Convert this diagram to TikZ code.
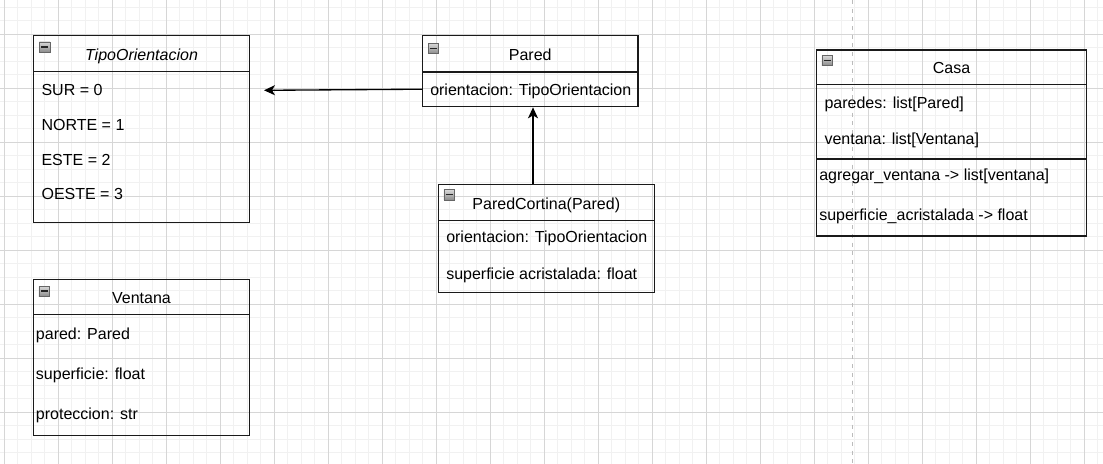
\documentclass[tikz,border=0pt]{standalone}
\usepackage{fontspec}
\setmainfont{Liberation Sans}
\usetikzlibrary{arrows.meta,fit,calc}
\definecolor{minorgrid}{HTML}{F1F1F1}
\definecolor{majorgrid}{HTML}{D6D6D6}
\definecolor{dashgray}{HTML}{BBBBBB}
\definecolor{boxline}{HTML}{1A1A1A}
\begin{document}
\begin{tikzpicture}[x=0.75pt,y=-0.75pt,
  font=\fontsize{12}{14}\selectfont,
  umlbox/.style={draw=boxline, line width=1pt, inner sep=0pt, rectangle},
  region/.style={inner sep=0pt, rectangle},
  sepline/.style={draw=boxline, line width=1pt},
  txt/.style={anchor=base west, inner sep=0pt, text=black},
  ttl/.style={anchor=base, inner sep=0pt, text=black},
  iconbox/.style={draw=black!60, top color=black!15, bottom color=black!45,
    minimum width=7.9pt, minimum height=7.6pt, inner sep=0pt, anchor=north west,
    path picture={\draw[black!85, line width=1.1pt]
      ([xshift=1.3pt]path picture bounding box.west) -- ([xshift=-1.3pt]path picture bounding box.east);}},
  arr/.style={draw=black, line width=1pt, -{Stealth[length=8.2pt,width=7.5pt,inset=2.2pt]}},
  minorln/.style={draw=minorgrid, line width=0.75pt},
  majorln/.style={draw=majorgrid, line width=0.75pt},
  guide/.style={draw=dashgray, line width=0.8pt, dash pattern=on 3pt off 3.5pt}
]
\useasboundingbox (0,0) rectangle (1103,464);
\fill[white] (0,0) rectangle (1103,464);
% grid
\foreach \i in {0,...,81} {\draw[minorln] ({4.3+13.5*\i},0) -- ({4.3+13.5*\i},464);}
\foreach \j in {0,...,33} {\draw[minorln] (0,{7.3+13.5*\j}) -- (1103,{7.3+13.5*\j});}
\foreach \i in {0,...,20} {\draw[majorln] ({4.3+54*\i},0) -- ({4.3+54*\i},464);}
\foreach \j in {0,...,7} {\draw[majorln] (0,{34.3+54*\j}) -- (1103,{34.3+54*\j});}
% dashed guide
\draw[guide] (852.7,0) -- (852.7,464);

% ---------- TipoOrientacion ----------
\node[umlbox, fit={(33.3,35.7) (249.7,222.3)}] (tipo) {};
\node[region, fit={(33.3,35.7) (249.7,71.3)}] (tipohead) {};
\draw[sepline] (tipohead.south west) -- (tipohead.south east);
\node[iconbox] (tipoicon) at ([xshift=4.9pt,yshift=-4.9pt]tipo.north west) {};
\node[ttl] (tipott) at (141.5,60) {\itshape TipoOrientacion};
\node[txt] (tipo1) at (41.3,95.7) {SUR = 0};
\node[txt] (tipo2) at (41.3,130.7) {NORTE = 1};
\node[txt] (tipo3) at (41.3,165) {ESTE = 2};
\node[txt] (tipo4) at (41.3,199.7) {OESTE = 3};

% ---------- Pared ----------
\node[umlbox, fit={(422.3,35.7) (638,106.7)}] (pared) {};
\node[region, fit={(422.3,35.7) (638,71.7)}] (paredhead) {};
\node[region, fit={(422.3,71.7) (638,106.7)}] (paredrow) {};
\draw[sepline] (paredhead.south west) -- (paredhead.south east);
\node[iconbox] (paredicon) at ([xshift=4.6pt,yshift=-6pt]pared.north west) {};
\node[ttl] (paredtt) at (530.2,60) {Pared};
\node[txt] (pared1) at (430,95) {orientacion: TipoOrientacion};

% ---------- ParedCortina ----------
\node[umlbox, fit={(438.3,184.3) (654.3,292.3)}] (cortina) {};
\node[region, fit={(438.3,184.3) (654.3,220)}] (cortinahead) {};
\draw[sepline] (cortinahead.south west) -- (cortinahead.south east);
\node[iconbox] (cortinaicon) at ([xshift=4.5pt,yshift=-4.3pt]cortina.north west) {};
\node[ttl] (cortinatt) at (546.3,209) {ParedCortina(Pared)};
\node[txt] (cortina1) at (446,242.7) {orientacion: TipoOrientacion};
\node[txt] (cortina2) at (446,279.3) {superficie acristalada: float};

% ---------- Casa ----------
\node[umlbox, fit={(816.3,50) (1086.7,236)}] (casa) {};
\node[region, fit={(816.3,50) (1086.7,84.3)}] (casahead) {};
\node[region, fit={(816.3,84.3) (1086.7,158.7)}] (casaattr) {};
\draw[sepline] (casahead.south west) -- (casahead.south east);
\draw[sepline] (casaattr.south west) -- (casaattr.south east);
\node[iconbox] (casaicon) at ([xshift=4.5pt,yshift=-4.3pt]casa.north west) {};
\node[ttl] (casatt) at (951.5,73.3) {Casa};
\node[txt] (casa1) at (824.3,108.3) {paredes: list[Pared]};
\node[txt] (casa2) at (824.3,144) {ventana: list[Ventana]};
\node[txt] (casa3) at (819,180) {agregar\_ventana -> list[ventana]};
\node[txt] (casa4) at (819,220) {superficie\_acristalada -> float};

% ---------- Ventana ----------
\node[umlbox, fit={(33.3,279.3) (249.7,435.3)}] (ventana) {};
\node[region, fit={(33.3,279.3) (249.7,314)}] (ventanahead) {};
\draw[sepline] (ventanahead.south west) -- (ventanahead.south east);
\node[iconbox] (ventanaicon) at ([xshift=4.5pt,yshift=-5.4pt]ventana.north west) {};
\node[ttl] (ventanatt) at (141.5,303.3) {Ventana};
\node[txt] (ventana1) at (35.7,339) {pared: Pared};
\node[txt] (ventana2) at (35.7,379.3) {superficie: float};
\node[txt] (ventana3) at (35.7,419.7) {proteccion: str};

% ---------- connectors ----------
\coordinate (tipoend) at (264,90.3);
\coordinate (ax) at (533,0);
\draw[arr] (paredrow.west) -- (tipoend);
\draw[arr] (cortina.north -| ax) -- (pared.south -| ax);
\end{tikzpicture}
\end{document}
